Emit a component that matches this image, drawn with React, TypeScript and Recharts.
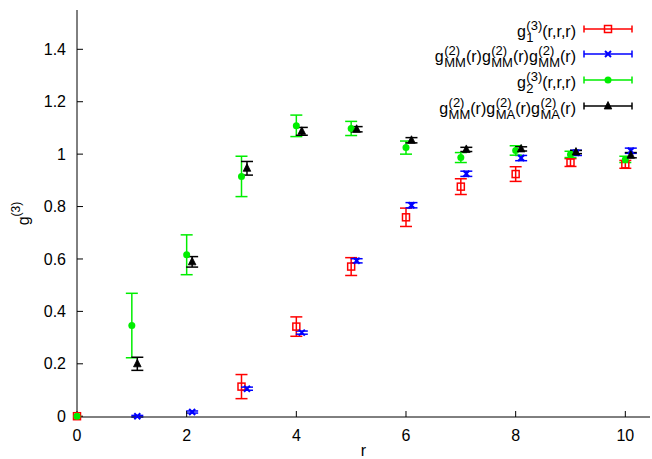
import React from 'react';
import { ScatterChart, Scatter, XAxis, YAxis, ErrorBar, Label } from 'recharts';

// ---- data ----
const rG1 = [0, 3, 4, 5, 6, 7, 8, 9, 10];
const g1Values = [0, 0.113, 0.342, 0.571, 0.759, 0.876, 0.924, 0.968, 0.961];
const g1Errors = [0, 0.046, 0.037, 0.034, 0.035, 0.03, 0.028, 0.015, 0.015];

const rMMM = [1.1, 2.1, 3.1, 4.1, 5.1, 6.1, 7.1, 8.1, 9.1, 10.1];
const mmmValues = [0, 0.016, 0.105, 0.319, 0.593, 0.805, 0.925, 0.985, 1.005, 1.013];
const mmmErrors = [0.003, 0.004, 0.006, 0.006, 0.008, 0.01, 0.01, 0.01, 0.01, 0.01];

const rG2 = [0, 1, 2, 3, 4, 5, 6, 7, 8, 9, 10];
const g2Values = [0, 0.346, 0.616, 0.915, 1.108, 1.098, 1.025, 0.987, 1.014, 0.999, 0.98];
const g2Errors = [0, 0.123, 0.076, 0.077, 0.041, 0.027, 0.025, 0.019, 0.018, 0.012, 0.012];

const rMAA = [1.1, 2.1, 3.1, 4.1, 5.1, 6.1, 7.1, 8.1, 9.1, 10.1];
const maaValues = [0.2, 0.589, 0.946, 1.087, 1.095, 1.053, 1.018, 1.02, 1.008, 0.996];
const maaErrors = [0.025, 0.02, 0.026, 0.015, 0.01, 0.01, 0.008, 0.008, 0.006, 0.01];

const xTicks = [0, 2, 4, 6, 8, 10];
const yTicks = [0, 0.2, 0.4, 0.6, 0.8, 1, 1.2, 1.4];

const build = (xs: number[], ys: number[], es: number[]) =>
  xs.map((x, i) => ({ x, y: ys[i], e: es[i] }));

const redData = build(rG1, g1Values, g1Errors);
const blueData = build(rMMM, mmmValues, mmmErrors);
const greenData = build(rG2, g2Values, g2Errors);
const blackData = build(rMAA, maaValues, maaErrors);

const RED = '#ff0000';
const BLUE = '#0000ff';
const GREEN = '#00ee00';
const BLACK = '#000000';
const FONT = '"Liberation Sans", Arial, Helvetica, sans-serif';

// ---- marker shapes ----
const SquareShape = (p: any) => (
  <rect x={p.cx - 3.5} y={p.cy - 3.5} width={7} height={7} fill="none" stroke={RED} strokeWidth={1.5} />
);
const CrossShape = (p: any) => (
  <g stroke={BLUE} strokeWidth={2}>
    <line x1={p.cx - 3} y1={p.cy - 3} x2={p.cx + 3} y2={p.cy + 3} />
    <line x1={p.cx - 3} y1={p.cy + 3} x2={p.cx + 3} y2={p.cy - 3} />
  </g>
);
const CircleShape = (p: any) => <circle cx={p.cx} cy={p.cy} r={3.5} fill={GREEN} />;
const TriangleShape = (p: any) => (
  <path
    d={`M${p.cx},${p.cy - 4.5} L${p.cx - 3.8},${p.cy + 3} L${p.cx + 3.8},${p.cy + 3} Z`}
    fill={BLACK}
    stroke={BLACK}
    strokeWidth={0.8}
  />
);

const YLabel = (props: any) => {
  const vb = props.viewBox || { x: 0, y: 0, width: 0, height: 0 };
  const cx = vb.x + 24;
  const cy = vb.y + vb.height / 2;
  return (
    <text
      transform={`translate(${cx},${cy}) rotate(-90)`}
      fontFamily={FONT}
      fontSize={16}
      fill="#000"
      textAnchor="middle"
    >
      <tspan dy={5}>g</tspan>
      <tspan fontSize={12} dy={-9}>(3)</tspan>
    </text>
  );
};

// ---- legend ----
const Scr = ({ sup, sub }: { sup: string; sub: string }) => (
  <span
    style={{
      display: 'inline-flex',
      flexDirection: 'column',
      fontSize: 13,
      lineHeight: '12px',
      verticalAlign: '7px',
      marginLeft: 0.5,
    }}
  >
    <span>{sup}</span>
    <span>{sub}</span>
  </span>
);

const legendRows = [
  {
    text: (
      <>
        g<Scr sup="(3)" sub="1" />(r,r,r)
      </>
    ),
    color: RED,
    Shape: SquareShape,
  },
  {
    text: (
      <>
        g<Scr sup="(2)" sub="MM" />(r)g<Scr sup="(2)" sub="MM" />(r)g<Scr sup="(2)" sub="MM" />(r)
      </>
    ),
    color: BLUE,
    Shape: CrossShape,
  },
  {
    text: (
      <>
        g<Scr sup="(3)" sub="2" />(r,r,r)
      </>
    ),
    color: GREEN,
    Shape: CircleShape,
  },
  {
    text: (
      <>
        g<Scr sup="(2)" sub="MM" />(r)g<Scr sup="(2)" sub="MA" />(r)g<Scr sup="(2)" sub="MA" />(r)
      </>
    ),
    color: BLACK,
    Shape: TriangleShape,
  },
];
const legendY = [29, 54, 80, 106];

const LegendOverlay = () => (
  <>
    {legendRows.map((row, i) => (
      <div
        key={i}
        style={{
          position: 'absolute',
          right: 652 - 576,
          top: legendY[i] - 9,
          fontFamily: FONT,
          fontSize: 16,
          lineHeight: '16px',
          whiteSpace: 'nowrap',
          color: '#000',
        }}
      >
        {row.text}
      </div>
    ))}
    <svg
      width={652}
      height={459}
      style={{ position: 'absolute', left: 0, top: 0, pointerEvents: 'none' }}
    >
      {legendRows.map((row, i) => {
        const y = legendY[i];
        const S = row.Shape;
        return (
          <g key={i}>
            <g stroke={row.color} strokeWidth={1.5}>
              <line x1={584} y1={y} x2={632} y2={y} />
              <line x1={584} y1={y - 3.5} x2={584} y2={y + 3.5} />
              <line x1={632} y1={y - 3.5} x2={632} y2={y + 3.5} />
            </g>
            <S cx={608} cy={y} />
          </g>
        );
      })}
    </svg>
  </>
);

const tickStyle = { fontFamily: FONT, fontSize: 16, fill: '#000' };
const blank = () => '';

export default function App() {
  return (
    <div
      style={{
        position: 'absolute',
        left: 0,
        top: 0,
        width: 652,
        height: 459,
        background: '#fff',
      }}
    >
      <ScatterChart width={652} height={459} margin={{ top: 10, right: 2, bottom: 0, left: 0 }}>
        <XAxis
          xAxisId={0}
          type="number"
          dataKey="x"
          domain={[0, 10.45]}
          ticks={xTicks}
          height={42}
          stroke="#000"
          tickSize={-6}
          tickMargin={19}
          tick={tickStyle}
          tickLine={{ stroke: '#000' }}
        >
          <Label
            value="r"
            position="insideBottom"
            offset={3}
            style={{ fontFamily: FONT, fontSize: 16, fill: '#000' }}
          />
        </XAxis>
        <XAxis
          xAxisId="top"
          orientation="top"
          type="number"
          domain={[0, 10.45]}
          ticks={xTicks}
          height={0}
          stroke="#000"
          tickSize={-6}
          tickFormatter={blank}
          tickLine={{ stroke: '#000' }}
        />
        <YAxis
          yAxisId={0}
          type="number"
          dataKey="y"
          domain={[0, 1.55]}
          ticks={yTicks}
          width={77}
          stroke="#000"
          tickSize={-6}
          tickMargin={17}
          tick={tickStyle}
          tickLine={{ stroke: '#000' }}
          label={<YLabel />}
        />
        <YAxis
          yAxisId="right"
          orientation="right"
          type="number"
          domain={[0, 1.55]}
          ticks={yTicks}
          width={0}
          stroke="#000"
          tickSize={-6}
          tickFormatter={blank}
          tickLine={{ stroke: '#000' }}
        />
        <Scatter data={redData} isAnimationActive={false} shape={SquareShape}>
          <ErrorBar dataKey="e" direction="y" width={6} stroke={RED} strokeWidth={1.5} isAnimationActive={false} />
        </Scatter>
        <Scatter data={blueData} isAnimationActive={false} shape={CrossShape}>
          <ErrorBar dataKey="e" direction="y" width={6} stroke={BLUE} strokeWidth={1.5} isAnimationActive={false} />
        </Scatter>
        <Scatter data={greenData} isAnimationActive={false} shape={CircleShape}>
          <ErrorBar dataKey="e" direction="y" width={6} stroke={GREEN} strokeWidth={1.5} isAnimationActive={false} />
        </Scatter>
        <Scatter data={blackData} isAnimationActive={false} shape={TriangleShape}>
          <ErrorBar dataKey="e" direction="y" width={6} stroke={BLACK} strokeWidth={1.5} isAnimationActive={false} />
        </Scatter>
      </ScatterChart>
      <LegendOverlay />
    </div>
  );
}
